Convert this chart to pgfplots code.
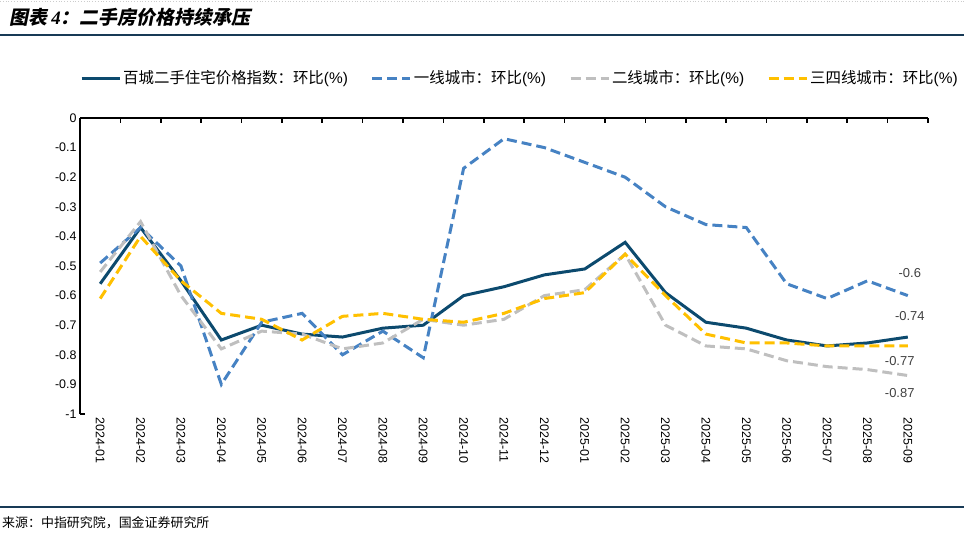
\documentclass[border=0pt]{standalone}
\usepackage{fontspec}
\usepackage{pgfplots}
\pgfplotsset{compat=1.18}
\setmainfont{Liberation Sans}
\newfontfamily\cjk{Noto Sans CJK SC}
\newfontfamily\cjkt{Noto Sans CJK SC}[FakeSlant=0.2]
\newfontfamily\serifbi{Liberation Serif}

\definecolor{navy}{RGB}{12,74,110}
\definecolor{tierA}{RGB}{70,130,195}
\definecolor{tierB}{RGB}{191,191,191}
\definecolor{tierC}{RGB}{255,192,0}
\definecolor{rulec}{RGB}{24,58,86}

% month-on-month change (%), 2024-01 .. 2025-09
\pgfplotstableread{
x  main   t1     t2     t3
0  -0.56  -0.49  -0.52  -0.61
1  -0.37  -0.37  -0.35  -0.40
2  -0.55  -0.50  -0.60  -0.55
3  -0.75  -0.90  -0.78  -0.66
4  -0.70  -0.69  -0.72  -0.68
5  -0.73  -0.66  -0.73  -0.75
6  -0.74  -0.80  -0.78  -0.67
7  -0.71  -0.72  -0.76  -0.66
8  -0.70  -0.81  -0.68  -0.68
9  -0.60  -0.17  -0.70  -0.69
10 -0.57  -0.07  -0.68  -0.66
11 -0.53  -0.10  -0.60  -0.61
12 -0.51  -0.15  -0.58  -0.59
13 -0.42  -0.20  -0.46  -0.46
14 -0.59  -0.30  -0.70  -0.60
15 -0.69  -0.36  -0.77  -0.73
16 -0.71  -0.37  -0.78  -0.76
17 -0.75  -0.56  -0.82  -0.76
18 -0.77  -0.61  -0.84  -0.77
19 -0.76  -0.55  -0.85  -0.77
20 -0.74  -0.60  -0.87  -0.77
}\prices

\begin{document}
\begin{tikzpicture}
\useasboundingbox (0,0) rectangle (964bp,-547bp);
\draw[gray!40, dotted, line width=0.8bp] (0,-1bp) -- (964bp,-1bp);
\node[anchor=west, inner sep=0pt] at (9bp,-17bp)
  {\fontsize{19}{22}\selectfont\cjkt\bfseries 图表 {\serifbi\bfseries\itshape 4}：二手房价格持续承压};
\draw[rulec, line width=1.3bp] (0,-35bp) -- (964bp,-35bp);

\begin{axis}[
  at={(80bp,-414bp)}, anchor=south west,
  width=848bp, height=296bp, scale only axis,
  xmin=-0.5, xmax=20.5, ymin=-1, ymax=0,
  axis x line*=bottom, axis y line*=left,
  axis line style={line width=1.6bp, black, -},
  x axis line style={draw=none},
  xtick={0,...,20},
  xticklabels={2024-01,2024-02,2024-03,2024-04,2024-05,2024-06,2024-07,2024-08,2024-09,2024-10,2024-11,2024-12,2025-01,2025-02,2025-03,2025-04,2025-05,2025-06,2025-07,2025-08,2025-09},
  ytick={-1,-0.9,-0.8,-0.7,-0.6,-0.5,-0.4,-0.3,-0.2,-0.1,0},
  yticklabels={-1,-0.9,-0.8,-0.7,-0.6,-0.5,-0.4,-0.3,-0.2,-0.1,0},
  major tick length=0pt,
  extra y ticks={-1},
  extra y tick labels={},
  extra y tick style={major tick length=5bp, tick align=inside, tick style={line width=1.6bp, black}},
  tick label style={font=\fontsize{12.5}{14}\selectfont, black},
  xticklabel style={rotate=-90, anchor=west},
  clip=false,
  legend style={at={(0,1.135)}, anchor=west, draw=none, fill=none,
    font=\fontsize{15.5}{18}\selectfont, inner xsep=0pt,
    /tikz/every even column/.append style={column sep=21bp}},
  legend columns=4,
  legend cell align=left,
  legend image code/.code={\draw[#1] (0bp,0bp) -- (38bp,0bp);},
]
% top axis line with category-boundary ticks
\draw[line width=1.6bp, black] (rel axis cs:0,1) -- (rel axis cs:1,1);
\pgfplotsinvokeforeach{-0.5,0.5,...,20.5}{
  \draw[line width=1.6bp, black] (axis cs:#1,0) -- ([yshift=-5bp]axis cs:#1,0);
}

\addplot[navy, line width=3bp] table[x=x, y=main] {\prices};
\addlegendentry{{\cjk 百城二手住宅价格指数：环比}(\%)}
\addplot[tierA, line width=3bp, dash pattern=on 10bp off 5bp] table[x=x, y=t1] {\prices};
\addlegendentry{{\cjk 一线城市：环比}(\%)}
\addplot[tierB, line width=3bp, dash pattern=on 10bp off 5bp] table[x=x, y=t2] {\prices};
\addlegendentry{{\cjk 二线城市：环比}(\%)}
\addplot[tierC, line width=3bp, dash pattern=on 10bp off 5bp] table[x=x, y=t3] {\prices};
\addlegendentry{{\cjk 三四线城市：环比}(\%)}

\node[font=\fontsize{13}{15}\selectfont, text=black!75] at (axis cs:20.05,-0.524) {-0.6};
\node[font=\fontsize{13}{15}\selectfont, text=black!75] at (axis cs:20.05,-0.668) {-0.74};
\node[font=\fontsize{13}{15}\selectfont, text=black!75] at (axis cs:19.8,-0.822) {-0.77};
\node[font=\fontsize{13}{15}\selectfont, text=black!75] at (axis cs:19.8,-0.930) {-0.87};
\end{axis}

\draw[rulec, line width=1.3bp] (0,-507bp) -- (964bp,-507bp);
\node[anchor=west, inner sep=0pt] at (2bp,-523bp)
  {\fontsize{13}{15}\selectfont\cjk 来源：中指研究院，国金证券研究所};
\end{tikzpicture}
\end{document}
